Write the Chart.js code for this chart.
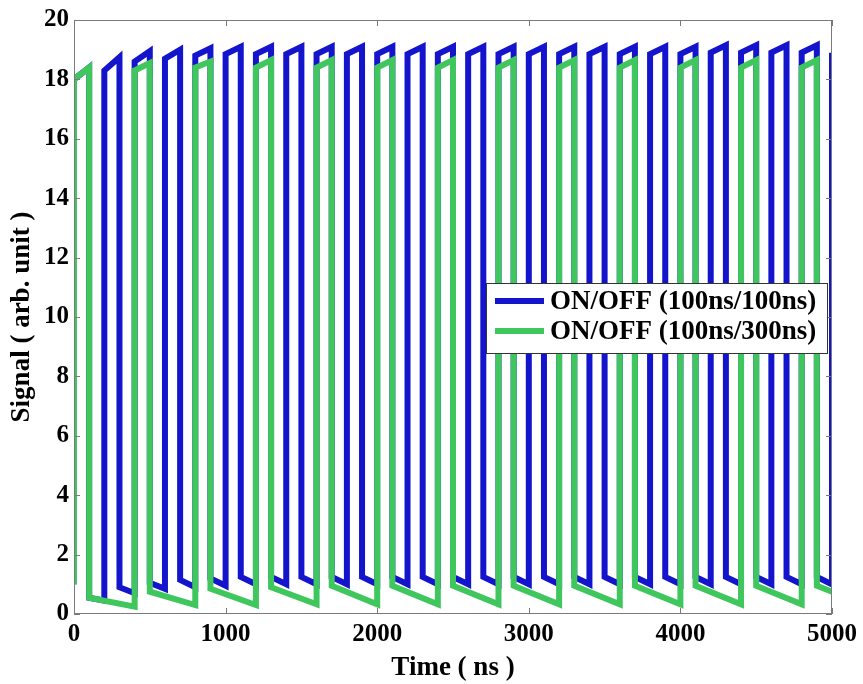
<!DOCTYPE html>
<html>
<head>
<meta charset="utf-8">
<script src="https://cdn.jsdelivr.net/npm/chart.js@4.4.1/dist/chart.umd.min.js"></script>
<style>
  html, body { margin: 0; padding: 0; background: #fff; }
  #wrap { width: 863px; height: 684px; }
</style>
</head>
<body>
<div id="wrap"><canvas id="chart1" width="863" height="684"></canvas></div>
<script>
// switching times (ns)
const blueOn  = [0, 200, 400, 600, 800, 1000, 1200, 1400, 1600, 1800, 2000, 2200, 2400,
                 2600, 2800, 3000, 3200, 3400, 3600, 3800, 4000, 4200, 4400, 4600, 4800, 5000];
const blueOff = [100, 300, 500, 700, 900, 1100, 1300, 1500, 1700, 1900, 2100, 2300, 2500,
                 2700, 2900, 3100, 3300, 3500, 3700, 3900, 4100, 4300, 4500, 4700, 4900];
const greenOn  = [0, 400, 800, 1200, 1600, 2000, 2400, 2800, 3200, 3600, 4000, 4400, 4800];
const greenOff = [100, 500, 900, 1300, 1700, 2100, 2500, 2900, 3300, 3700, 4100, 4500, 4900];

// signal levels (arb. unit)
const signalStart = 1.0;
const blueTopStart  = [18.0, 18.3, 18.6, 18.7, 18.8, 18.85, 18.85, 18.85, 18.85, 18.85, 18.85, 18.85, 18.85,
                       18.85, 18.85, 18.85, 18.85, 18.85, 18.85, 18.85, 18.85, 18.9, 18.9, 18.9, 18.9, 18.9];
const blueTopEnd    = [18.4, 18.75, 18.95, 19.0, 19.05, 19.1, 19.1, 19.1, 19.1, 19.1, 19.1, 19.1, 19.1,
                       19.1, 19.1, 19.1, 19.1, 19.1, 19.1, 19.1, 19.1, 19.15, 19.15, 19.15, 19.15];
const blueBaseStart = [0.55, 0.9, 1.05, 1.15, 1.2, 1.25, 1.25, 1.25, 1.25, 1.25, 1.25, 1.25, 1.25,
                       1.25, 1.25, 1.25, 1.25, 1.25, 1.25, 1.25, 1.25, 1.25, 1.25, 1.25, 1.25];
const blueBaseEnd   = [0.45, 0.7, 0.85, 0.9, 0.95, 1.0, 1.0, 1.0, 1.0, 1.0, 1.0, 1.0, 1.0,
                       1.0, 1.0, 1.0, 1.0, 1.0, 1.0, 1.0, 1.0, 1.0, 1.0, 1.0, 1.0];
const greenTopStart  = [18.0, 18.3, 18.4, 18.4, 18.4, 18.4, 18.4, 18.4, 18.4, 18.4, 18.4, 18.4, 18.4];
const greenTopEnd    = [18.4, 18.55, 18.6, 18.65, 18.65, 18.65, 18.65, 18.65, 18.65, 18.65, 18.65, 18.65, 18.65];
const greenBaseStart = [0.55, 0.75, 0.85, 0.9, 0.95, 0.95, 0.95, 0.95, 0.95, 0.95, 0.95, 0.95, 0.95];
const greenBaseEnd   = [0.25, 0.3, 0.3, 0.33, 0.33, 0.33, 0.33, 0.33, 0.33, 0.33, 0.33, 0.33, 0.75];

const xTicks = [0, 1000, 2000, 3000, 4000, 5000];
const yTicks = [0, 2, 4, 6, 8, 10, 12, 14, 16, 18, 20];

const seriesNames = ['ON/OFF (100ns/100ns)', 'ON/OFF (100ns/300ns)'];
const BLUE = '#1414cc';
const GREEN = '#3fc75e';
const SERIF = '"Liberation Serif", "Times New Roman", serif';

// turn the edge times + levels into a stepped trace
function buildTrace(onT, offT, topStart, topEnd, baseStart, baseEnd) {
  var pts = [];
  for (var i = 0; i < onT.length; i++) {
    pts.push({x: onT[i], y: i ? baseEnd[i - 1] : signalStart});
    pts.push({x: onT[i], y: topStart[i]});
    if (i < offT.length) {
      pts.push({x: offT[i], y: topEnd[i]});
      pts.push({x: offT[i], y: baseStart[i]});
    }
  }
  if (offT.length === onT.length) {
    pts.push({x: 5000, y: baseEnd[baseEnd.length - 1]});
  }
  return pts;
}

const bluePts = buildTrace(blueOn, blueOff, blueTopStart, blueTopEnd, blueBaseStart, blueBaseEnd);
const greenPts = buildTrace(greenOn, greenOff, greenTopStart, greenTopEnd, greenBaseStart, greenBaseEnd);

// box around the axes with inward ticks on all four sides
const frame = {
  id: 'frame',
  afterDatasetsDraw(chart) {
    var c = chart.ctx, a = chart.chartArea, sx = chart.scales.x, sy = chart.scales.y;
    c.save();
    c.strokeStyle = '#7a7a7a';
    c.lineWidth = 1;
    c.strokeRect(a.left + 0.5, a.top + 0.5, a.right - a.left - 1, a.bottom - a.top - 1);
    c.beginPath();
    xTicks.forEach(function (v) {
      var px = Math.round(sx.getPixelForValue(v)) + 0.5;
      c.moveTo(px, a.bottom); c.lineTo(px, a.bottom - 6);
      c.moveTo(px, a.top); c.lineTo(px, a.top + 6);
    });
    yTicks.forEach(function (v) {
      var py = Math.round(sy.getPixelForValue(v)) + 0.5;
      c.moveTo(a.left, py); c.lineTo(a.left + 6, py);
      c.moveTo(a.right, py); c.lineTo(a.right - 6, py);
    });
    c.stroke();
    c.restore();
  }
};

// legend box inside the plot area
const legendBox = {
  id: 'legendBox',
  afterDraw(chart) {
    var c = chart.ctx, a = chart.chartArea;
    var bx = a.left + 412, by = 283, bw = 341, bh = 70;
    c.save();
    c.fillStyle = '#fff';
    c.fillRect(bx, by, bw, bh);
    c.strokeStyle = '#333';
    c.lineWidth = 1;
    c.strokeRect(bx + 0.5, by + 0.5, bw, bh);
    c.font = 'bold 27px ' + SERIF;
    c.textBaseline = 'middle';
    c.fillStyle = '#000';
    chart.data.datasets.forEach(function (ds, i) {
      var y = by + 18 + i * 30;
      c.strokeStyle = ds.borderColor;
      c.lineWidth = 6;
      c.beginPath();
      c.moveTo(bx + 9, y); c.lineTo(bx + 58, y);
      c.stroke();
      c.fillText(ds.label, bx + 64, y + 1);
    });
    c.restore();
  }
};

var ctx = document.getElementById('chart1').getContext('2d');
new Chart(ctx, {
  type: 'line',
  data: {
    datasets: [{
      label: seriesNames[0],
      data: bluePts,
      borderColor: BLUE,
      borderWidth: 6,
      order: 1
    }, {
      label: seriesNames[1],
      data: greenPts,
      borderColor: GREEN,
      borderWidth: 6,
      order: 0
    }]
  },
  options: {
    responsive: false,
    animation: false,
    events: [],
    layout: { padding: { top: 16, right: 31, left: 0, bottom: 0 } },
    elements: {
      point: { radius: 0 },
      line: { tension: 0, borderJoinStyle: 'miter', borderCapStyle: 'butt', fill: false }
    },
    plugins: { legend: { display: false }, tooltip: { enabled: false } },
    scales: {
      x: {
        type: 'linear',
        min: 0, max: 5000,
        afterFit: function (s) { s.height = 70; },
        afterBuildTicks: function (s) { s.ticks = xTicks.map(function (v) { return {value: v}; }); },
        grid: { display: false, drawTicks: false },
        border: { display: false },
        ticks: { color: '#000', padding: 6, maxRotation: 0,
                 callback: function (v) { return String(v); },
                 font: { family: SERIF, size: 25, weight: 'bold' } },
        title: { display: true, text: 'Time ( ns )', color: '#000', padding: { top: 0, bottom: 0 },
                 font: { family: SERIF, size: 27, weight: 'bold' } }
      },
      y: {
        min: 0, max: 20,
        afterFit: function (s) { s.width = 74; },
        afterBuildTicks: function (s) { s.ticks = yTicks.map(function (v) { return {value: v}; }); },
        grid: { display: false, drawTicks: false },
        border: { display: false },
        ticks: { color: '#000', padding: 5, callback: function (v) { return String(v); },
                 font: { family: SERIF, size: 25, weight: 'bold' } },
        title: { display: true, text: 'Signal ( arb. unit )', color: '#000', padding: { top: 6, bottom: 0 },
                 font: { family: SERIF, size: 27, weight: 'bold' } }
      }
    }
  },
  plugins: [frame, legendBox]
});
</script>
</body>
</html>
